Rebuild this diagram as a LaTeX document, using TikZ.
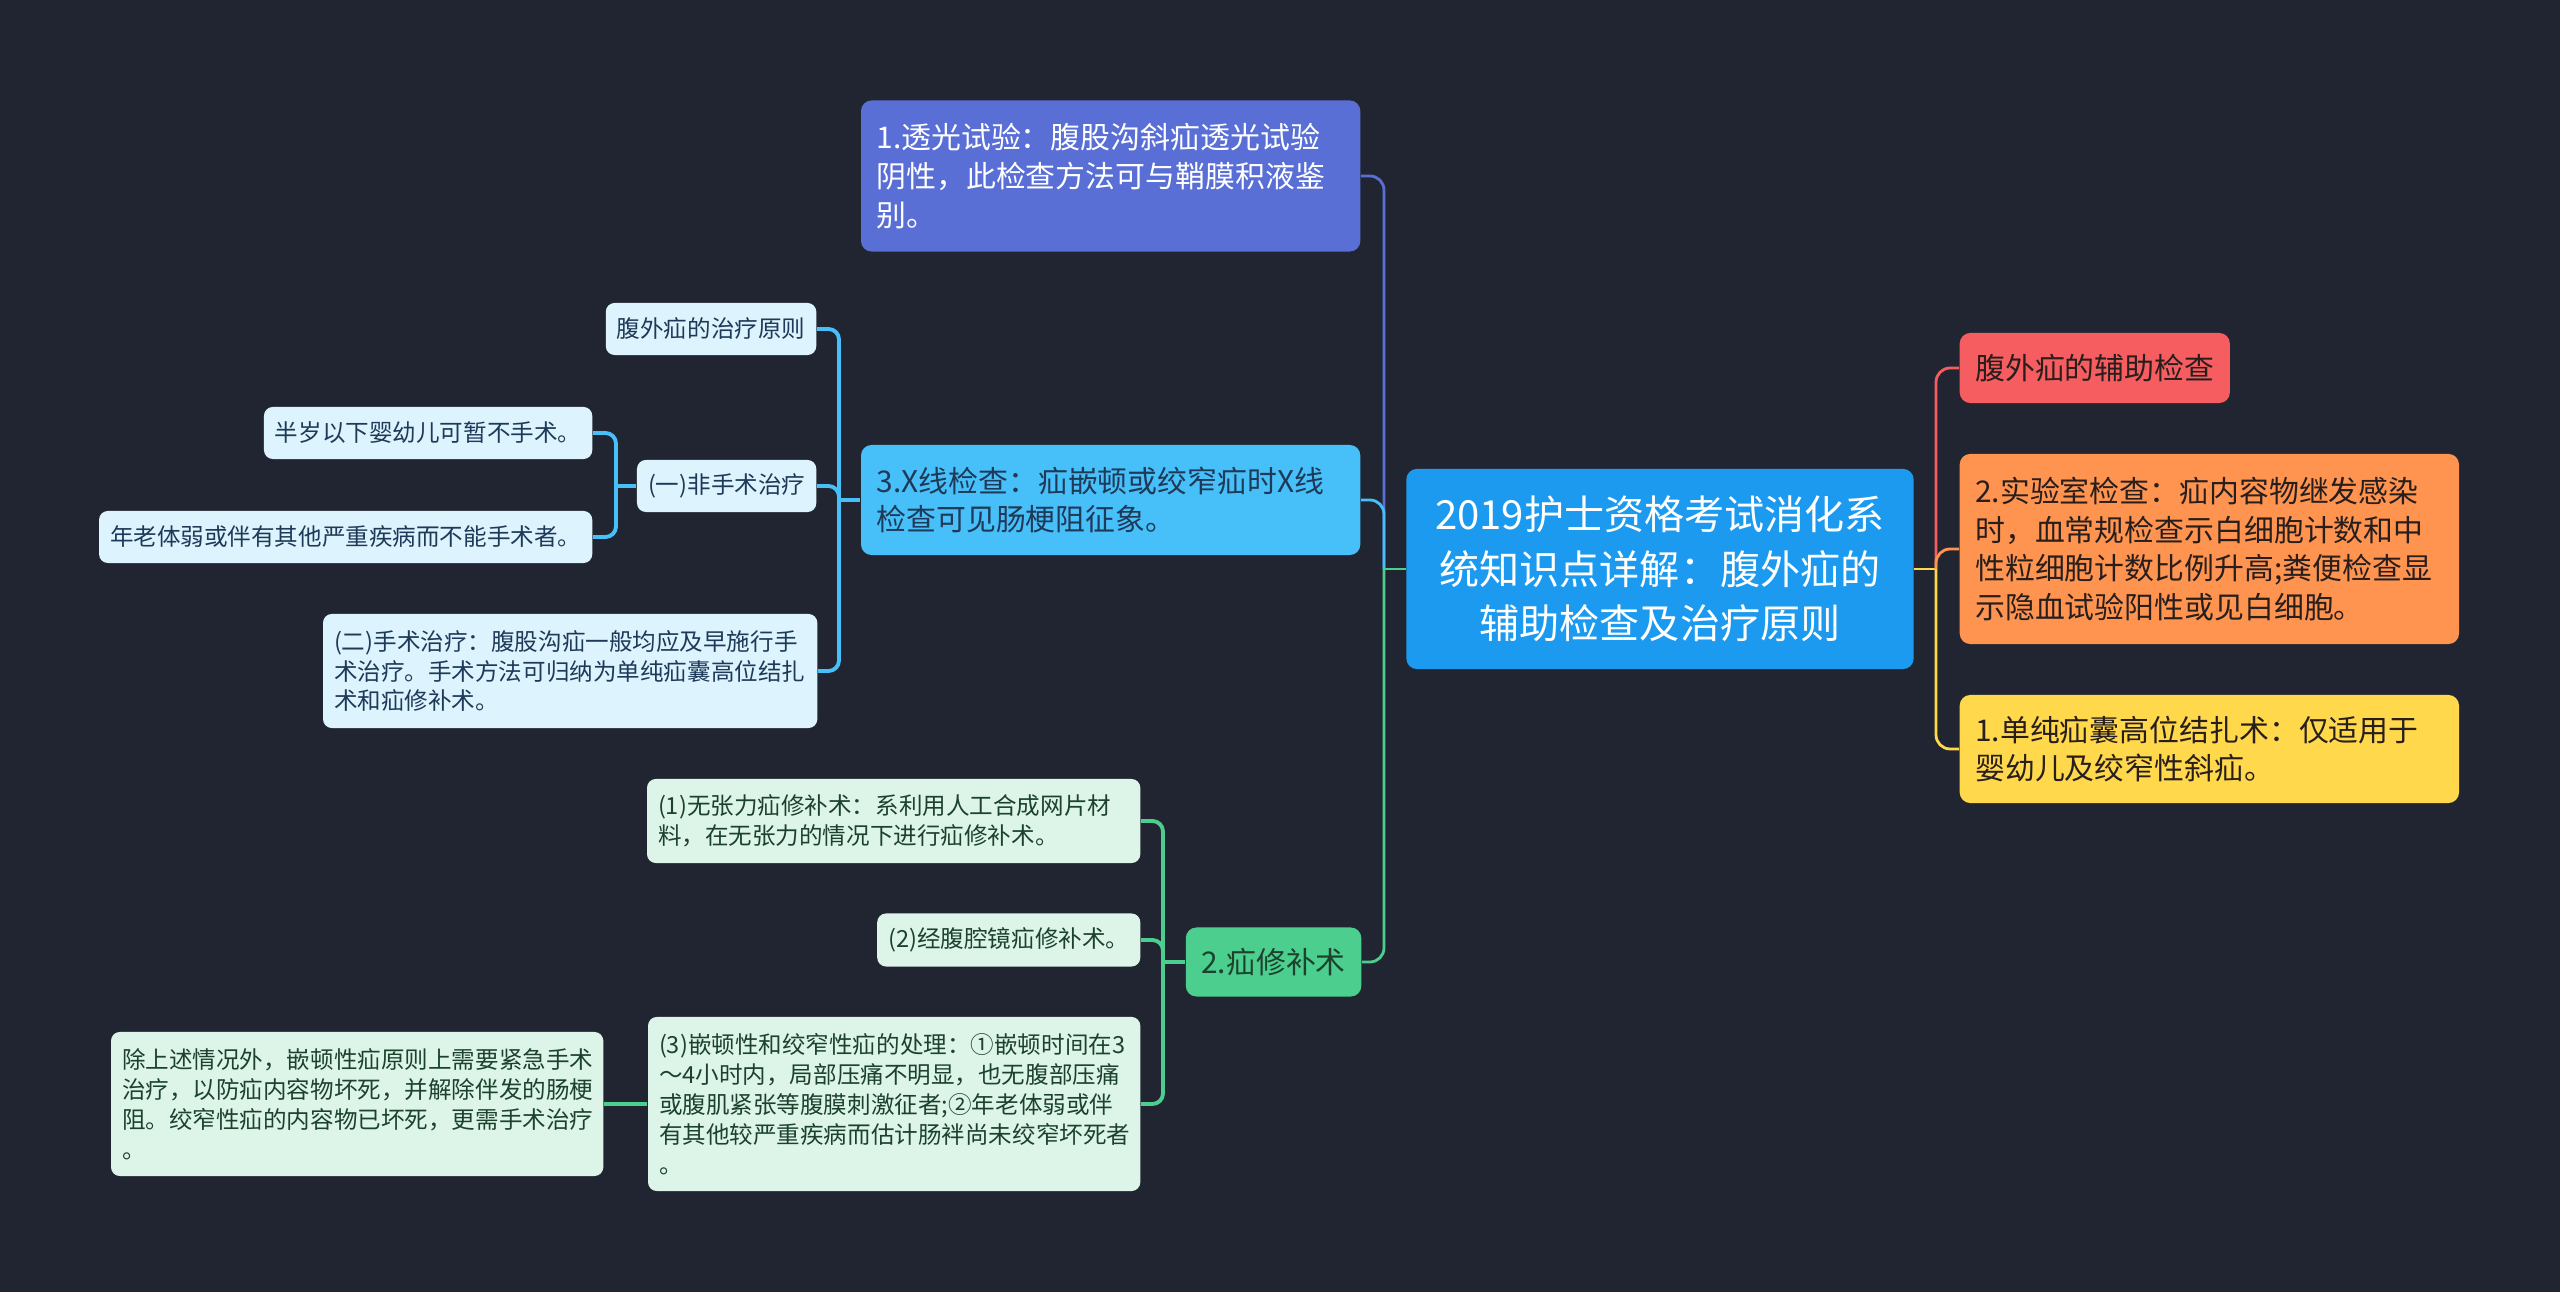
\documentclass[tikz,border=0pt]{standalone}
\usepackage{fontspec}
\setmainfont{Noto Sans CJK SC}
\usepackage{xcolor}

\definecolor{bgdark}{RGB}{33,37,49}
\definecolor{ctrblue}{RGB}{28,154,239}
\definecolor{violet1}{RGB}{89,111,214}
\definecolor{skyblue}{RGB}{71,192,250}
\definecolor{mint}{RGB}{76,206,142}
\definecolor{redbox}{RGB}{245,93,97}
\definecolor{orangebox}{RGB}{255,148,80}
\definecolor{yellowbox}{RGB}{255,216,75}
\definecolor{leafblue}{RGB}{221,243,253}
\definecolor{leafbluetext}{RGB}{30,58,88}
\definecolor{leafgreen}{RGB}{221,245,232}
\definecolor{leafgreentext}{RGB}{28,66,46}
\definecolor{darktext}{RGB}{40,30,28}

\begin{document}
\begin{tikzpicture}[
  x=0.01cm, y=-0.01cm,
  topic/.style={fill=ctrblue, rounded corners=3pt, align=center, text=white, font=\fontsize{11.4pt}{15.5pt}\selectfont, inner xsep=0.16cm, text width=4.75cm, minimum height=2cm},
  branch/.style={rounded corners=3pt, align=left, font=\fontsize{8.5pt}{11pt}\selectfont, inner xsep=0.155cm, text=darktext},
  leaf/.style={rounded corners=2.5pt, align=left, font=\fontsize{6.7pt}{8.5pt}\selectfont, inner xsep=0.11cm},
  bleaf/.style={leaf, fill=leafblue, text=leafbluetext},
  gleaf/.style={leaf, fill=leafgreen, text=leafgreentext},
  link/.style={line width=0.8pt, rounded corners=4pt},
  twig/.style={line width=1.1pt, rounded corners=3pt},
]

% 背景
\fill[bgdark] (0,0) rectangle (2560,1292);

% 中心主题
\node[topic] (ctr) at (1660,569) {2019护士资格考试消化系\\统知识点详解：腹外疝的\\辅助检查及治疗原则};

% 右侧分支
\node[branch, fill=redbox, anchor=west, minimum height=0.70cm] (fzjc) at (1959,368) {腹外疝的辅助检查};
\node[branch, fill=orangebox, anchor=west, text width=4.68cm, minimum height=1.90cm] (sysjc) at (1959,549) {2.实验室检查：疝内容物继发感染\\时，血常规检查示白细胞计数和中\\性粒细胞计数比例升高;粪便检查显\\示隐血试验阳性或见白细胞。};
\node[branch, fill=yellowbox, anchor=west, text width=4.68cm, minimum height=1.08cm] (gzs) at (1959,749) {1.单纯疝囊高位结扎术：仅适用于\\婴幼儿及绞窄性斜疝。};

% 左侧分支
\node[branch, fill=violet1, text=white, anchor=east, text width=4.68cm, minimum height=1.51cm] (tgsy) at (1361,176) {1.透光试验：腹股沟斜疝透光试验\\阴性，此检查方法可与鞘膜积液鉴\\别。};
\node[branch, fill=skyblue, text=leafbluetext, anchor=east, text width=4.68cm, minimum height=1.10cm] (xxjc) at (1361,500) {3.X线检查：疝嵌顿或绞窄疝时X线\\检查可见肠梗阻征象。};
\node[branch, fill=mint, text=leafgreentext, anchor=east, minimum height=0.69cm] (xbs) at (1362,962) {2.疝修补术};

% 治疗原则
\node[bleaf, anchor=east, minimum height=0.52cm] (zlyz) at (817,329) {腹外疝的治疗原则};
\node[bleaf, anchor=east, minimum height=0.52cm] (fss) at (817,486) {(一)非手术治疗};
\node[bleaf, anchor=east, minimum height=0.52cm] (bsyx) at (593,433) {半岁以下婴幼儿可暂不手术。};
\node[bleaf, anchor=east, minimum height=0.52cm] (nlty) at (593,537) {年老体弱或伴有其他严重疾病而不能手术者。};
\node[bleaf, anchor=east, text width=4.72cm, minimum height=1.14cm] (sszl) at (818,671) {(二)手术治疗：腹股沟疝一般均应及早施行手\\术治疗。手术方法可归纳为单纯疝囊高位结扎\\术和疝修补术。};

% 疝修补术
\node[gleaf, anchor=east, text width=4.71cm, minimum height=0.84cm] (wzl) at (1141,821) {(1)无张力疝修补术：系利用人工合成网片材\\料，在无张力的情况下进行疝修补术。};
\node[gleaf, anchor=east, minimum height=0.53cm] (fqj) at (1141,940) {(2)经腹腔镜疝修补术。};
\node[gleaf, anchor=east, text width=4.70cm, minimum height=1.74cm] (qdx) at (1141,1104) {(3)嵌顿性和绞窄性疝的处理：①嵌顿时间在3\\～4小时内，局部压痛不明显，也无腹部压痛\\或腹肌紧张等腹膜刺激征者;②年老体弱或伴\\有其他较严重疾病而估计肠袢尚未绞窄坏死者\\。};
\node[gleaf, anchor=east, text width=4.70cm, minimum height=1.44cm] (csq) at (604,1104) {除上述情况外，嵌顿性疝原则上需要紧急手术\\治疗，以防疝内容物坏死，并解除伴发的肠梗\\阻。绞窄性疝的内容物已坏死，更需手术治疗\\。};

% 连线的汇合点
\coordinate (lt) at (1384,569);
\coordinate (rt) at (1936,569);
\coordinate (xt) at (839,500);
\coordinate (ft) at (616,486);
\coordinate (ht) at (1163,962);

% 右侧连线
\draw[link, yellowbox] (ctr.east) -- (rt);
\foreach \n/\c in {fzjc/redbox, sysjc/orangebox, gzs/yellowbox}
  \draw[link, \c] (rt) |- (\n.west);

% 左侧连线
\foreach \n/\c in {tgsy/violet1, xxjc/skyblue, xbs/mint}
  \draw[link, \c] (\n.east) -| (lt);
\draw[link, mint] (lt) -- (ctr.west);

% 叶子连线
\foreach \n in {zlyz, fss, sszl}
  \draw[twig, skyblue] (\n.east) -| (xt);
\draw[twig, skyblue] (xt) -- (xxjc.west);
\foreach \n in {bsyx, nlty}
  \draw[twig, skyblue] (\n.east) -| (ft);
\draw[twig, skyblue] (ft) -- (fss.west);
\foreach \n in {wzl, fqj, qdx}
  \draw[twig, mint] (\n.east) -| (ht);
\draw[twig, mint] (ht) -- (xbs.west);
\draw[twig, mint] (qdx.west) -- (csq.east);

\end{tikzpicture}
\end{document}
